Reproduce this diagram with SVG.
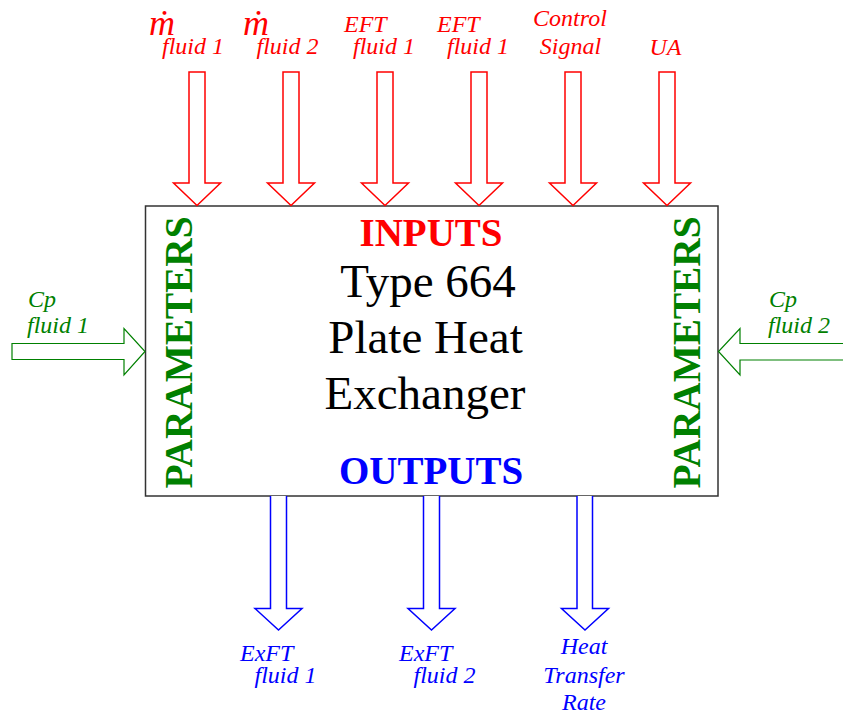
<svg xmlns="http://www.w3.org/2000/svg" width="843" height="714" viewBox="0 0 843 714">
<style>
.lbl{font-family:"Liberation Serif","Times New Roman",serif;font-style:italic;font-size:24px}
.big{font-size:36px}
.red{fill:#ff0000}
.grn{fill:#008000}
.blu{fill:#0000ff}
.ain{fill:#ffffff;stroke:#ff0000;stroke-width:1.5}
.apar{fill:#ffffff;stroke:#008000;stroke-width:1.2}
.aout{fill:#ffffff;stroke:#0000ff;stroke-width:1.5}
.bold{font-family:"Liberation Serif","Times New Roman",serif;font-weight:bold}
.main{font-family:"Liberation Serif","Times New Roman",serif;font-size:47px;fill:#000000;text-anchor:middle}
</style>
<g id="block">
<rect x="145.5" y="206" width="572.5" height="290" fill="#ffffff" stroke="#333333" stroke-width="1.5"/>
<text class="bold red" x="431" y="245.5" font-size="39" text-anchor="middle">INPUTS</text>
<text class="main" x="428" y="296.5">Type 664</text>
<text class="main" x="425.5" y="352.5">Plate Heat</text>
<text class="main" x="425" y="408.5">Exchanger</text>
<text class="bold blu" x="431" y="483.5" font-size="39" text-anchor="middle">OUTPUTS</text>
<text class="bold grn" font-size="41" textLength="272" lengthAdjust="spacingAndGlyphs" transform="translate(191.5,488.5) rotate(-90)">PARAMETERS</text>
<text class="bold grn" font-size="41" textLength="272" lengthAdjust="spacingAndGlyphs" transform="translate(700,488.5) rotate(-90)">PARAMETERS</text>
</g>
<g id="connectors">
<path class="ain" d="M189,72 h16 V183 h15.5 L197,205.5 L173.5,183 H189 Z"/>
<path class="ain" d="M283,72 h16 V183 h15.5 L291,205.5 L267.5,183 H283 Z"/>
<path class="ain" d="M377,72 h16 V183 h15.5 L385,205.5 L361.5,183 H377 Z"/>
<path class="ain" d="M471,72 h16 V183 h15.5 L479,205.5 L455.5,183 H471 Z"/>
<path class="ain" d="M565,72 h16 V183 h15.5 L573,205.5 L549.5,183 H565 Z"/>
<path class="ain" d="M659,72 h16 V183 h15.5 L667,205.5 L643.5,183 H659 Z"/>
<path class="apar" d="M12,343.5 H124 V328.5 L145,351.5 L124,375 V359.5 H12 Z"/>
<path class="apar" d="M845,343.5 H740 V328.5 L718.5,351.5 L740,375 V360 H845"/>
<path class="aout" d="M270.5,496 V608.5 H255 L278.5,630 L302,608.5 H286.5 V496"/>
<path class="aout" d="M423.5,496 V608.5 H408 L431.5,630 L455,608.5 H439.5 V496"/>
<path class="aout" d="M577,496 V608.5 H561.5 L585,630 L608.5,608.5 H592.5 V496"/>
</g>
<g id="in-mdot1">
<text class="lbl big red" x="149" y="35">ṁ</text>
<text class="lbl red" x="162" y="54">fluid 1</text>
</g>
<g id="in-mdot2">
<text class="lbl big red" x="243" y="35">ṁ</text>
<text class="lbl red" x="256.5" y="54">fluid 2</text>
</g>
<g id="in-eft1">
<text class="lbl red" x="344" y="32">EFT</text>
<text class="lbl red" x="353" y="54">fluid 1</text>
</g>
<g id="in-eft2">
<text class="lbl red" x="437" y="32">EFT</text>
<text class="lbl red" x="447" y="54">fluid 1</text>
</g>
<g id="in-control">
<text class="lbl red" x="570" y="26" text-anchor="middle">Control</text>
<text class="lbl red" x="570.5" y="54" text-anchor="middle">Signal</text>
</g>
<g id="in-ua">
<text class="lbl red" x="665.5" y="55" text-anchor="middle">UA</text>
</g>
<g id="par-cp1">
<text class="lbl grn" x="28" y="306.5">Cp</text>
<text class="lbl grn" x="27" y="332.5">fluid 1</text>
</g>
<g id="par-cp2">
<text class="lbl grn" x="769" y="306.5">Cp</text>
<text class="lbl grn" x="768" y="333">fluid 2</text>
</g>
<g id="out-exft1">
<text class="lbl blu" x="240" y="661">ExFT</text>
<text class="lbl blu" x="254.5" y="682.5">fluid 1</text>
</g>
<g id="out-exft2">
<text class="lbl blu" x="399" y="661">ExFT</text>
<text class="lbl blu" x="413.5" y="682.5">fluid 2</text>
</g>
<g id="out-heat">
<text class="lbl blu" x="584" y="653.5" text-anchor="middle">Heat</text>
<text class="lbl blu" x="584" y="682.5" text-anchor="middle">Transfer</text>
<text class="lbl blu" x="584" y="709.5" text-anchor="middle">Rate</text>
</g>
</svg>
